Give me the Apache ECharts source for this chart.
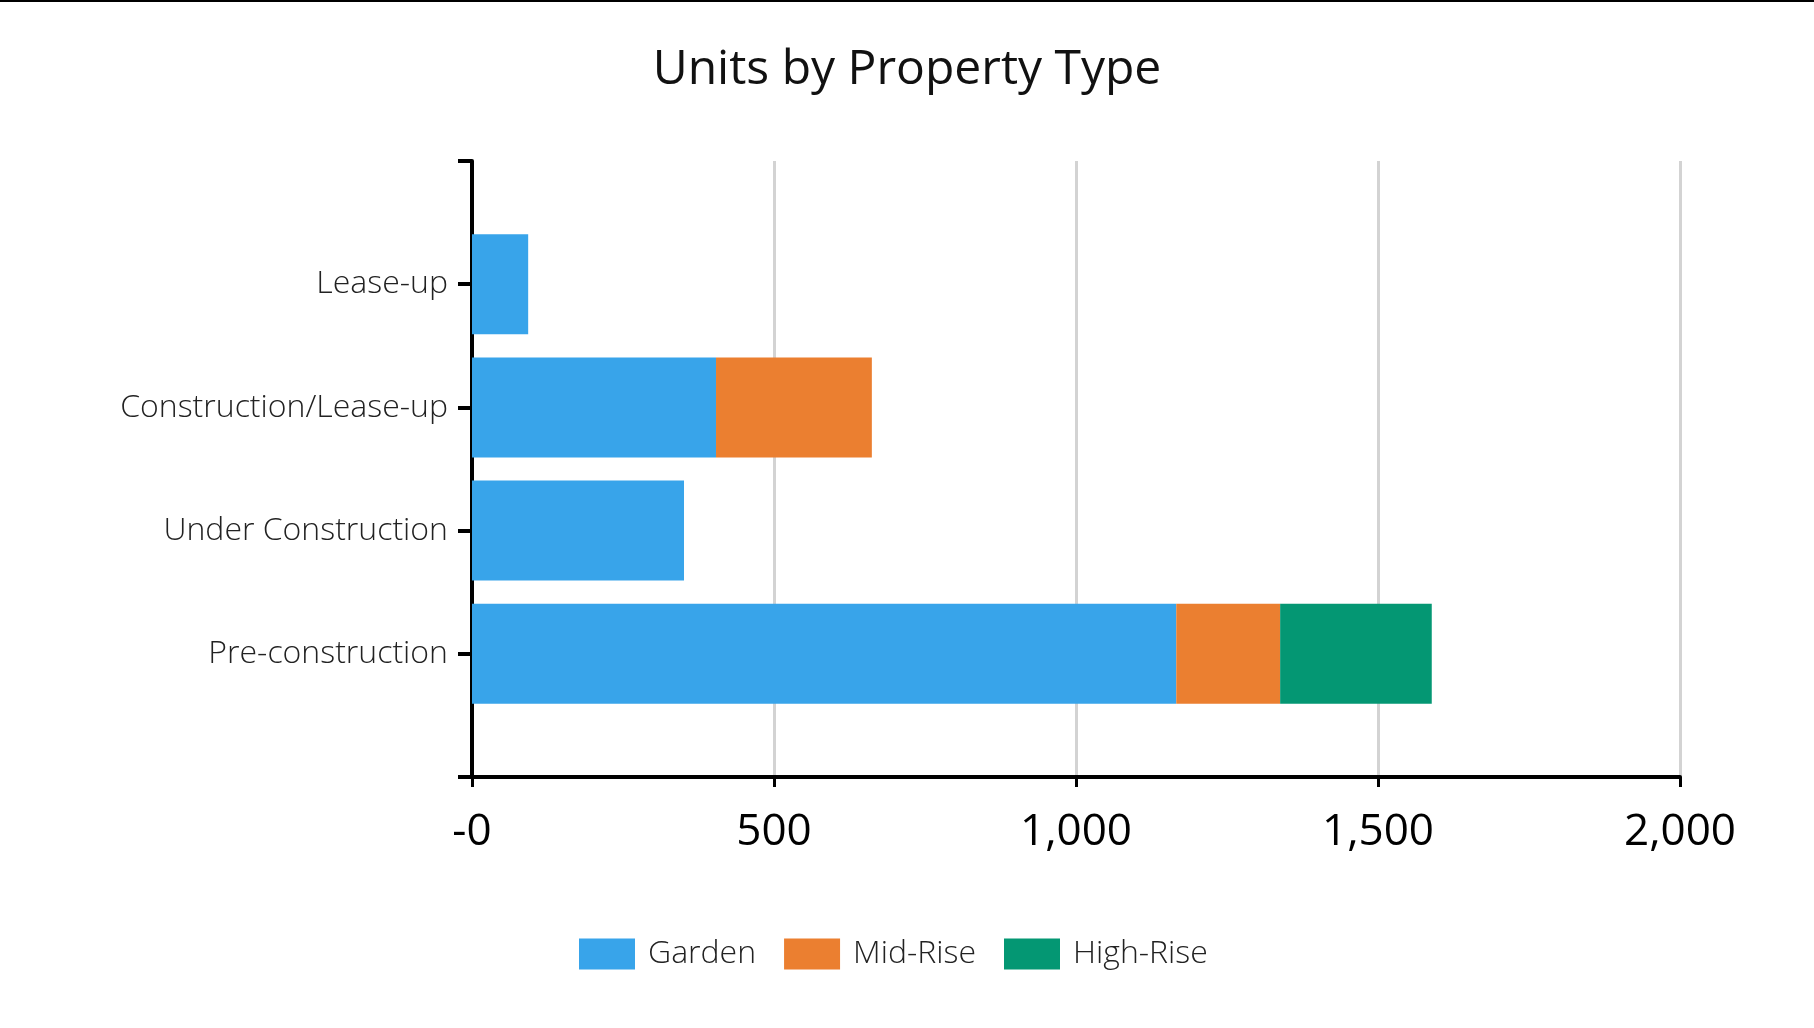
<!DOCTYPE html>
<html>
<head>
<meta charset="utf-8">
<script src="https://cdn.jsdelivr.net/npm/echarts@6/dist/echarts.min.js"></script>
<style>html,body{margin:0;padding:0;background:#fff;}#c{width:1814px;height:1028px;}</style>
</head>
<body>
<div id="c"></div>
<script>
const categories = ['', 'Pre-construction', 'Under Construction', 'Construction/Lease-up', 'Lease-up', ''];
const garden = ['-', 1166, 351, 404, 93, '-'];
const midRise = ['-', 172, '-', 258, '-', '-'];
const highRise = ['-', 251, '-', '-', '-', '-'];
const xTicks = [0, 500, 1000, 1500, 2000];
const xTickLabels = ['-0', '500', '1,000', '1,500', '2,000'];

const chart = echarts.init(document.getElementById('c'));
chart.setOption({
  animation: false,
  backgroundColor: '#ffffff',
  graphic: [{type: 'rect', shape: {x: 0, y: 0, width: 1814, height: 2}, style: {fill: '#000'}}],
  title: {
    text: 'Units by Property Type', left: 'center', top: 41,
    textStyle: {fontFamily: 'Open Sans', fontWeight: 'normal', fontSize: 48, color: '#111'}
  },
  legend: {
    bottom: 53, left: 574, itemWidth: 56, itemHeight: 31, itemGap: 28,
    icon: 'rect',
    textStyle: {fontFamily: 'Open Sans', fontWeight: 300, fontSize: 32, color: '#222', padding: [0, 0, 0, 8]},
    data: ['Garden', 'Mid-Rise', 'High-Rise']
  },
  grid: {left: 472, right: 134, top: 161, bottom: 251, containLabel: false},
  xAxis: {
    type: 'value', min: 0, max: 2000, interval: 500,
    axisLine: {show: true, lineStyle: {color: '#000', width: 4}},
    axisTick: {show: true, length: 10, lineStyle: {color: '#000', width: 3}},
    splitLine: {show: true, lineStyle: {color: '#d3d3d3', width: 3}},
    axisLabel: {
      margin: 33, fontFamily: 'Open Sans', fontSize: 44, color: '#000',
      formatter: v => xTickLabels[xTicks.indexOf(v)]
    }
  },
  yAxis: {
    type: 'category', data: categories, boundaryGap: false,
    axisLine: {show: true, lineStyle: {color: '#000', width: 4}},
    axisTick: {show: true, length: 14, lineStyle: {color: '#000', width: 4}},
    splitLine: {show: false},
    axisLabel: {margin: 24, fontFamily: 'Open Sans', fontWeight: 300, fontSize: 32, color: '#222'}
  },
  series: [
    {name: 'Garden', type: 'bar', stack: 't', data: garden, barWidth: 100, itemStyle: {color: '#38a4ea'}},
    {name: 'Mid-Rise', type: 'bar', stack: 't', data: midRise, barWidth: 100, itemStyle: {color: '#eb7f30'}},
    {name: 'High-Rise', type: 'bar', stack: 't', data: highRise, barWidth: 100, itemStyle: {color: '#049773'}}
  ]
});
</script>
</body>
</html>
